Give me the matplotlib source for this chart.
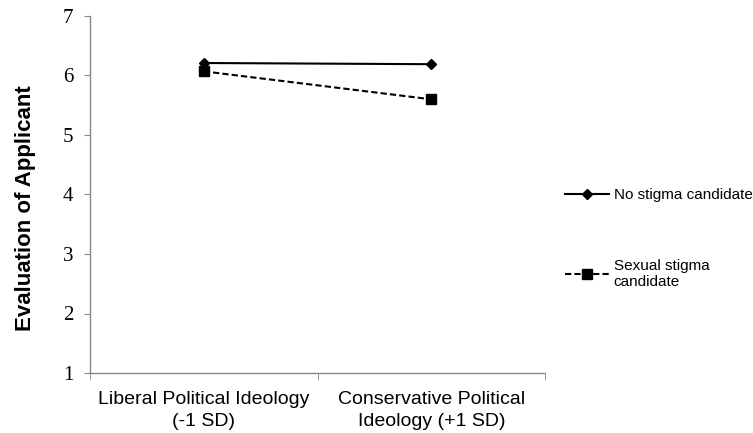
import matplotlib.pyplot as plt

categories = ['Liberal Political Ideology\n(-1 SD)', 'Conservative Political\nIdeology (+1 SD)']
no_stigma = [6.21, 6.19]
sexual_stigma = [6.07, 5.60]
y_ticks = [1, 2, 3, 4, 5, 6, 7]

fig = plt.figure(figsize=(7.53, 4.33), dpi=100)
ax = fig.add_axes([90 / 753, 1 - 373 / 433, 455 / 753, 357 / 433])

x = [0, 1]
ax.plot(x, no_stigma, color='black', linestyle='-', linewidth=1.5,
        marker='D', markersize=5, label='No stigma candidate')
ax.plot(x, sexual_stigma, color='black', linestyle=(0, (3, 1.5)), linewidth=1.5,
        marker='s', markersize=7, label='Sexual stigma\ncandidate')

ax.set_xlim(-0.5, 1.5)
ax.set_ylim(1, 7)
ax.set_yticks(y_ticks)
ax.set_yticklabels([str(v) for v in y_ticks], family='Liberation Serif', fontsize=15)
ax.set_xticks(x)
ax.set_xticklabels(categories, family='Liberation Sans', fontsize=14, linespacing=1.35)
ax.tick_params(axis='x', length=0, pad=13)
ax.tick_params(axis='y', length=4, color='#888888', pad=8)

# category separators on the x-axis
ax.set_xticks([-0.5, 0.5, 1.5], minor=True)
ax.tick_params(axis='x', which='minor', length=5, color='#888888')

for side in ['top', 'right']:
    ax.spines[side].set_visible(False)
for side in ['left', 'bottom']:
    ax.spines[side].set_color('#888888')
    ax.spines[side].set_linewidth(1)

ax.set_ylabel('Evaluation of Applicant', family='Liberation Sans', fontweight='bold',
              fontsize=16)
ax.yaxis.set_label_coords(-0.118, 0.462)

ax.legend(frameon=False, loc='upper left', bbox_to_anchor=(1.03, 0.535),
          prop={'family': 'Liberation Sans', 'size': 11}, labelspacing=3.7,
          handlelength=2.9, handletextpad=0.3, borderaxespad=0)

fig.savefig('out.png', dpi=100)
